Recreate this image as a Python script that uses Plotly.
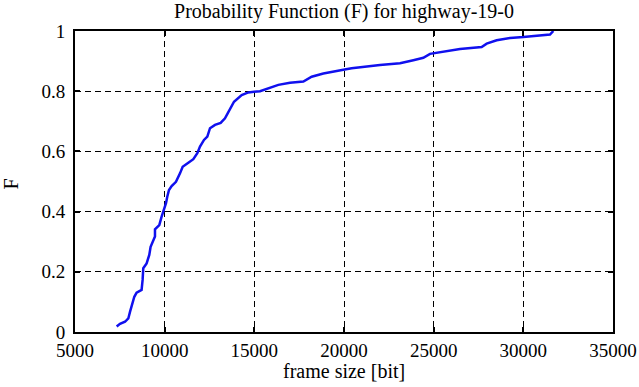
import plotly.graph_objects as go

frame_size = [7323, 7509, 7788, 7974, 8067, 8160, 8307, 8435, 8714, 8770, 8807, 8993, 9142, 9216,
              9328, 9460, 9460, 9700, 9830, 9963, 10074, 10148, 10241, 10390, 10630, 10855, 11004,
              11319, 11598, 11821, 11970, 12193, 12379, 12528, 12807, 13123, 13364, 13513, 13680,
              13866, 14295, 14666, 15316, 15874, 16338, 16989, 17510, 17734, 18198, 18848, 19963,
              20426, 22007, 23123, 23866, 24424, 24795, 25353, 26468, 27677, 27956, 28513, 29257,
              30000, 31115, 31487, 31673]
prob_F = [0.018, 0.027, 0.034, 0.045, 0.067, 0.09, 0.117, 0.131, 0.14, 0.173, 0.212, 0.228, 0.256,
          0.283, 0.30, 0.317, 0.341, 0.355, 0.383, 0.405, 0.428, 0.45, 0.472, 0.485, 0.499, 0.527,
          0.549, 0.562, 0.574, 0.594, 0.616, 0.638, 0.649, 0.677, 0.688, 0.695, 0.71, 0.726, 0.746,
          0.765, 0.787, 0.796, 0.80, 0.811, 0.821, 0.828, 0.83, 0.832, 0.848, 0.859, 0.871, 0.876,
          0.887, 0.893, 0.903, 0.911, 0.924, 0.93, 0.94, 0.947, 0.958, 0.969, 0.977, 0.98, 0.986,
          0.988, 1.0]

x_ticks = [5000, 10000, 15000, 20000, 25000, 30000, 35000]
y_ticks = [0, 0.2, 0.4, 0.6, 0.8, 1]
y_tick_labels = ["0", "0.2", "0.4", "0.6", "0.8", "1"]

FONT = "Liberation Serif, 'Times New Roman', Times, serif"

fig = go.Figure()
fig.add_trace(go.Scatter(x=frame_size, y=prob_F, mode="lines",
                         line=dict(color="#1010ee", width=2.5), showlegend=False))

fig.update_layout(
    width=639, height=387,
    margin=dict(l=75, r=26, t=31, b=55, autoexpand=False),
    paper_bgcolor="white", plot_bgcolor="white",
    font=dict(family=FONT, size=19, color="black"),
    title=dict(text="Probability Function (F) for highway-19-0", x=344 / 639, xanchor="center",
               xref="container", y=1 - 11 / 387, yref="container", yanchor="middle",
               font=dict(family=FONT, size=20, color="black")),
    annotations=[
        dict(text="frame size [bit]", xref="paper", yref="paper", x=0.5, y=-(371 - 332) / 301,
             xanchor="center", yanchor="middle", showarrow=False,
             font=dict(family=FONT, size=20, color="black")),
        dict(text="F", xref="paper", yref="paper", x=(11 - 75) / 538, y=0.49,
             xanchor="center", yanchor="middle", showarrow=False, textangle=-90,
             font=dict(family=FONT, size=20, color="black")),
    ],
)
fig.update_xaxes(
    range=[5000, 35000], tickvals=x_ticks, ticktext=[str(v) for v in x_ticks],
    showline=True, linecolor="black", linewidth=2, mirror="allticks",
    ticks="inside", ticklen=5, tickcolor="black", tickwidth=2,
    showgrid=True, gridcolor="black", gridwidth=1, griddash="6px,4px",
    zeroline=False, tickfont=dict(family=FONT, size=19), automargin=False,
)
fig.update_yaxes(
    range=[0, 1], tickvals=y_ticks, ticktext=y_tick_labels,
    showline=True, linecolor="black", linewidth=2, mirror="allticks",
    ticks="inside", ticklen=5, tickcolor="black", tickwidth=2,
    showgrid=True, gridcolor="black", gridwidth=1, griddash="6px,4px",
    zeroline=False, tickfont=dict(family=FONT, size=19), automargin=False,
    ticklabelstandoff=4,
)

fig.write_html("out.html", config={"displayModeBar": False},
               post_script="document.body.style.margin='0';")
